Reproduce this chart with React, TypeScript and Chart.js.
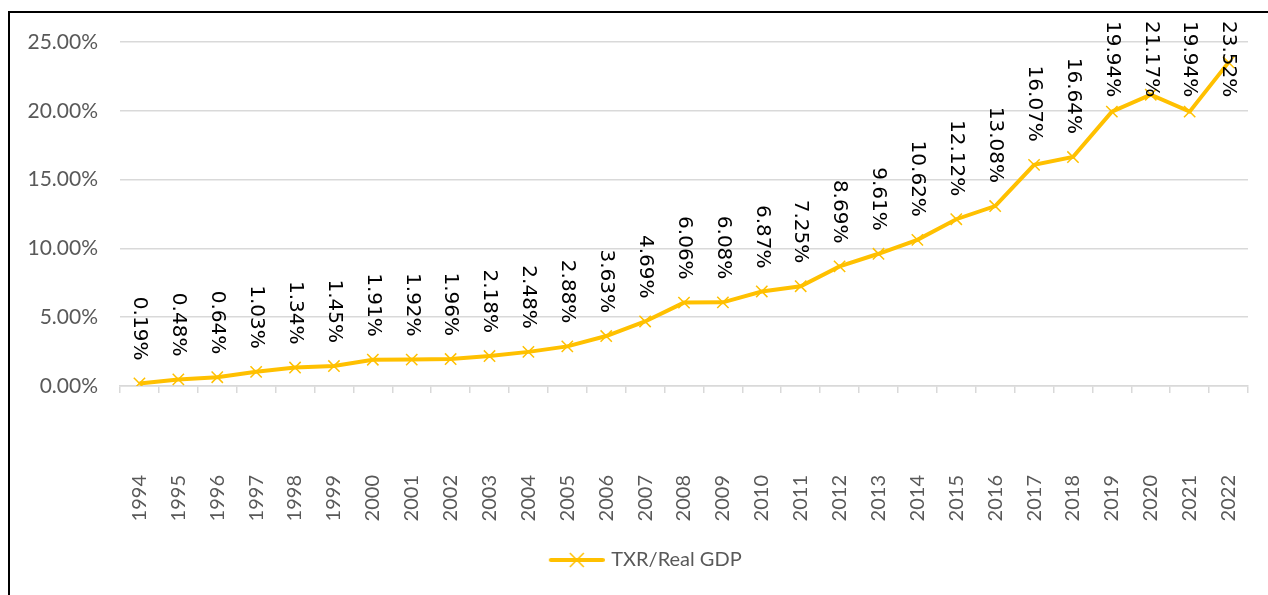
import React, { useEffect, useRef } from "react";
import { Chart, registerables } from "chart.js";

Chart.register(...registerables);

const years: string[] = [
  "1994", "1995", "1996", "1997", "1998", "1999", "2000", "2001", "2002", "2003",
  "2004", "2005", "2006", "2007", "2008", "2009", "2010", "2011", "2012", "2013",
  "2014", "2015", "2016", "2017", "2018", "2019", "2020", "2021", "2022",
];

const txrRealGdp: number[] = [
  0.19, 0.48, 0.64, 1.03, 1.34, 1.45, 1.91, 1.92, 1.96, 2.18,
  2.48, 2.88, 3.63, 4.69, 6.06, 6.08, 6.87, 7.25, 8.69, 9.61,
  10.62, 12.12, 13.08, 16.07, 16.64, 19.94, 21.17, 19.94, 23.52,
];

const seriesName = "TXR/Real GDP";
const yTicks: number[] = [0, 5, 10, 15, 20, 25];

const LINE_COLOR = "#FFC000";
const TEXT_GREY = "#595959";
const GRID_GREY = "#d9d9d9";

function makeLegendIcon(): HTMLCanvasElement {
  const c = document.createElement("canvas");
  c.width = 92;
  c.height = 20;
  const g = c.getContext("2d")!;
  const x0 = 36;
  g.strokeStyle = LINE_COLOR;
  g.lineWidth = 4;
  g.lineCap = "round";
  g.beginPath();
  g.moveTo(x0 + 2, 10);
  g.lineTo(x0 + 54, 10);
  g.stroke();
  g.lineWidth = 1.5;
  g.lineCap = "butt";
  g.beginPath();
  g.moveTo(x0 + 21, 3);
  g.lineTo(x0 + 35, 17);
  g.moveTo(x0 + 35, 3);
  g.lineTo(x0 + 21, 17);
  g.stroke();
  return c;
}

const dataLabelPlugin = {
  id: "rotatedDataLabels",
  afterDatasetsDraw(chart: any) {
    const ctx = chart.ctx as CanvasRenderingContext2D;
    const meta = chart.getDatasetMeta(0);
    const values = chart.data.datasets[0].data as number[];
    ctx.save();
    ctx.font = "20px 'DejaVu Sans'";
    ctx.fillStyle = "#000000";
    ctx.textAlign = "left";
    ctx.textBaseline = "middle";
    meta.data.forEach((pt: any, i: number) => {
      const label = values[i].toFixed(2) + "%";
      const w = ctx.measureText(label).width;
      const top = Math.max(8, pt.y - 23 - w);
      ctx.save();
      ctx.translate(pt.x, top);
      ctx.rotate(Math.PI / 2);
      ctx.fillText(label, 0, 0);
      ctx.restore();
    });
    ctx.restore();
  },
};

export default function App() {
  const canvasRef = useRef<HTMLCanvasElement | null>(null);

  useEffect(() => {
    if (!canvasRef.current) return;
    const icon = makeLegendIcon();
    const chart = new Chart(canvasRef.current, {
      type: "line",
      data: {
        labels: years,
        datasets: [
          {
            label: seriesName,
            data: txrRealGdp,
            borderColor: LINE_COLOR,
            backgroundColor: LINE_COLOR,
            borderWidth: 4,
            pointStyle: "crossRot",
            pointRadius: 8,
            pointBorderWidth: 1.5,
            pointBorderColor: LINE_COLOR,
            tension: 0,
          },
        ],
      },
      options: {
        animation: false,
        responsive: true,
        maintainAspectRatio: false,
        layout: { padding: { top: 29, right: 20, bottom: 15, left: 0 } },
        scales: {
          x: {
            offset: true,
            grid: {
              offset: true,
              drawOnChartArea: false,
              drawTicks: true,
              tickLength: 7,
              color: GRID_GREY,
              lineWidth: 1.5,
            },
            border: { display: true, color: GRID_GREY, width: 1.5 },
            ticks: {
              minRotation: 90,
              maxRotation: 90,
              autoSkip: false,
              padding: 82,
              color: TEXT_GREY,
              font: { family: "Lato", size: 20 },
            },
            afterFit: (s: any) => {
              s.height = 154;
              s.paddingLeft = 0;
              s.paddingRight = 0;
            },
          },
          y: {
            min: 0,
            max: 25,
            afterBuildTicks: (s: any) => {
              s.ticks = yTicks.map((v) => ({ value: v }));
            },
            grid: { color: GRID_GREY, lineWidth: 1.5, drawTicks: false },
            border: { display: false },
            ticks: {
              padding: 22,
              color: TEXT_GREY,
              font: { family: "Lato", size: 21 },
              callback: (v: any) => Number(v).toFixed(2) + "%",
            },
            afterFit: (s: any) => {
              s.width = 110;
              s.paddingTop = 0;
              s.paddingBottom = 0;
            },
          },
        },
        plugins: {
          legend: {
            position: "bottom",
            labels: {
              usePointStyle: true,
              pointStyleWidth: 85,
              color: TEXT_GREY,
              font: { family: "Lato", size: 20 },
              generateLabels: () => [
                {
                  text: seriesName,
                  pointStyle: icon,
                  fillStyle: LINE_COLOR,
                  strokeStyle: LINE_COLOR,
                  lineWidth: 0,
                  hidden: false,
                  datasetIndex: 0,
                  fontColor: TEXT_GREY,
                },
              ],
            },
          },
          tooltip: { enabled: false },
        },
      },
      plugins: [dataLabelPlugin],
    });
    return () => chart.destroy();
  }, []);

  return (
    <div style={{ position: "fixed", inset: 0, overflow: "hidden", background: "#fff" }}>
      <div
        style={{
          position: "absolute",
          left: 8,
          top: 11,
          width: 1300,
          height: 620,
          border: "2px solid #000",
          boxSizing: "border-box",
        }}
      />
      <div style={{ position: "absolute", left: 10, top: 13, width: 1258, height: 582 }}>
        <canvas ref={canvasRef} />
      </div>
    </div>
  );
}
